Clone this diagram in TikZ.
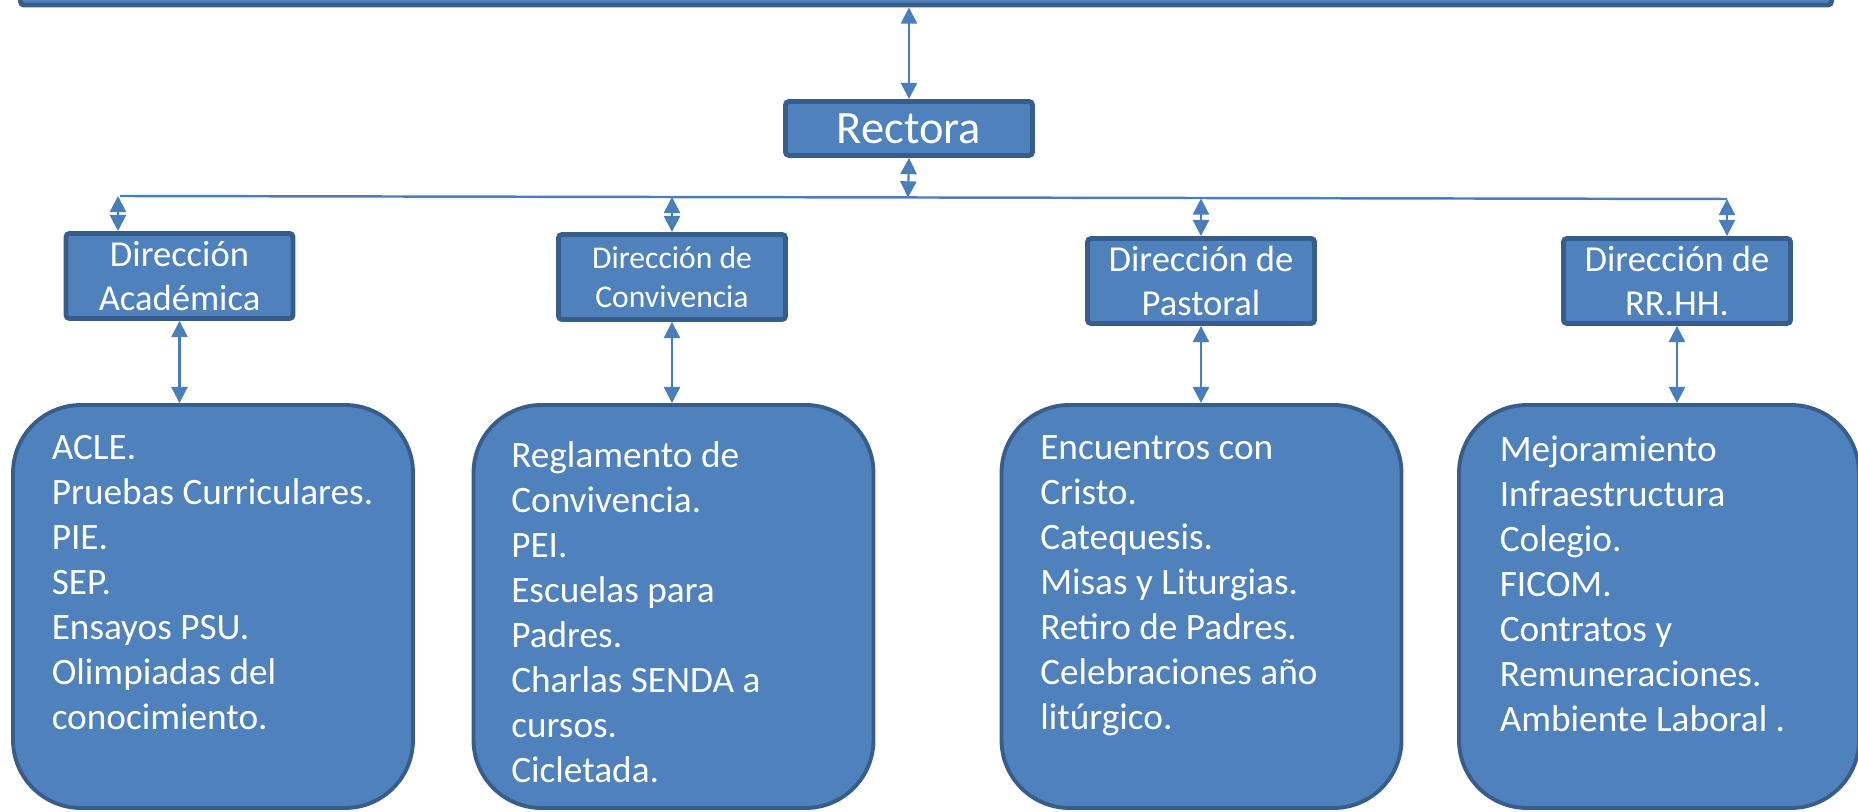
\documentclass[tikz,border=0pt]{standalone}
\usepackage{fontspec}
\setmainfont{Carlito}
\usetikzlibrary{arrows.meta}
\definecolor{boxblue}{HTML}{4F81BD}
\definecolor{boxline}{HTML}{385D8A}
\definecolor{linkblue}{HTML}{4A7EBB}
\tikzset{
  rbox/.style= {draw=boxline, fill=boxblue, line width=1.4pt, rounded corners=1pt, text=white, align=center, inner sep=0},
  dbox/.style= {rbox, minimum width=2.27cm, minimum height=0.85cm, font=\fontsize{10.4}{12.4}\selectfont},
  lbox/.style= {draw=boxline, fill=boxblue, line width=1.1pt, rounded corners=0.68cm, minimum width=4.0cm, minimum height=4.03cm},
  ltext/.style= {text=white, align=left, anchor=north west, inner sep=0, font=\fontsize{10.6}{12.8}\selectfont},
  link/.style= {draw=linkblue, line width=0.6pt, {Triangle[length=4.6pt,width=4.6pt]}-{Triangle[length=4.6pt,width=4.6pt]}},
}

\begin{document}
\begin{tikzpicture}
  \useasboundingbox (0,0) rectangle (18.58,-8.12);
  \node [rbox, minimum width=18.11cm, minimum height=1cm, anchor=south] (junta) at (9.26,-0.075) {} ;
  \node [rbox, minimum width=2.47cm, minimum height=0.54cm, font=\fontsize{13.2}{15}\selectfont] (rec) at (9.09,-1.285) {Rectora} ;

  \node [dbox] (dirA) at (1.795,-2.76) {Dirección\\Académica} ;
  \node [dbox, font=\fontsize{9}{11.3}\selectfont] (dirB) at (6.72,-2.77) {Dirección de\\Convivencia} ;
  \node [dbox] (dirC) at (12.01,-2.81) {Dirección de\\Pastoral} ;
  \node [dbox] (dirD) at (16.77,-2.81) {Dirección de\\RR.HH.} ;

  \node [lbox] (listA) at (2.13,-6.065) {} ;
  \node [lbox] (listB) at (6.735,-6.065) {} ;
  \node [lbox] (listC) at (12.015,-6.065) {} ;
  \node [lbox] (listD) at (16.59,-6.065) {} ;

  \node [ltext] (txtA) at ([shift={(0.40,-0.32)}]listA.north west) {ACLE.\\Pruebas Curriculares.\\PIE.\\SEP.\\Ensayos PSU.\\Olimpiadas del\\conocimiento.} ;
  \node [ltext] (txtB) at ([shift={(0.39,-0.38)}]listB.north west) {Reglamento de\\Convivencia.\\PEI.\\Escuelas para\\Padres.\\Charlas SENDA a\\cursos.\\Cicletada.} ;
  \node [ltext] (txtC) at ([shift={(0.40,-0.32)}]listC.north west) {Encuentros con\\Cristo.\\Catequesis.\\Misas y Liturgias.\\Retiro de Padres.\\Celebraciones año\\litúrgico.} ;
  \node [ltext] (txtD) at ([shift={(0.42,-0.32)}]listD.north west) {Mejoramiento\\Infraestructura\\Colegio.\\FICOM.\\Contratos y\\Remuneraciones.\\Ambiente Laboral .} ;

  % bus line under the rector
  \coordinate (busL) at (1.20,-1.96) ;
  \coordinate (busR) at (17.27,-1.99) ;
  \coordinate (tR) at (9.08,-1.975) ;
  \coordinate (tA) at (1.18,-1.96) ;
  \coordinate (tB) at (6.72,-1.97) ;
  \coordinate (tC) at (12.01,-1.985) ;
  \coordinate (tD) at (17.27,-1.99) ;
  \draw [draw=linkblue, line width=0.7pt] (busL) -- (busR) ;

  \draw [link] (junta.south -| rec.north) -- (rec.north) ;
  \draw [link] (rec.south) -- (tR) ;
  \foreach \d in {A,B,C,D} {
    \draw [link] (t\d) -- (t\d |- dir\d.north) ;
    \draw [link] (dir\d.south) -- (dir\d.south |- list\d.north) ;
  }
\end{tikzpicture}
\end{document}
